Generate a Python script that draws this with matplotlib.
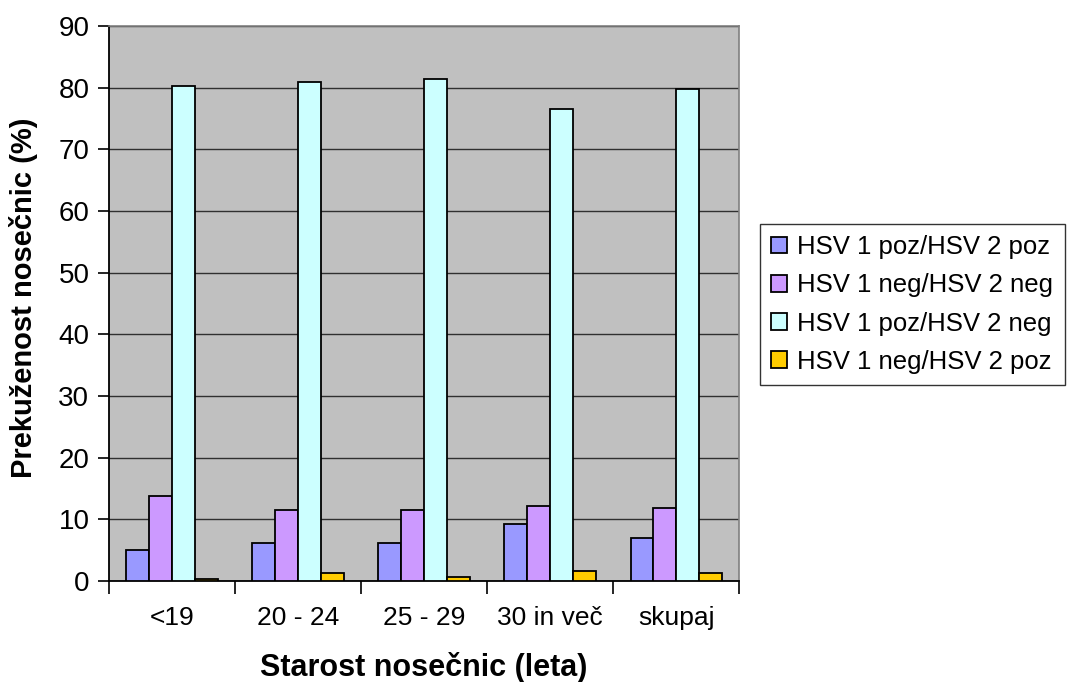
import matplotlib
matplotlib.use("Agg")
import matplotlib.pyplot as plt
import numpy as np

categories = ["<19", "20 - 24", "25 - 29", "30 in več", "skupaj"]
series_names = ["HSV 1 poz/HSV 2 poz", "HSV 1 neg/HSV 2 neg",
                "HSV 1 poz/HSV 2 neg", "HSV 1 neg/HSV 2 poz"]
poz_poz = [5.0, 6.2, 6.2, 9.2, 7.0]
neg_neg = [13.8, 11.5, 11.5, 12.1, 11.8]
poz_neg = [80.3, 80.9, 81.4, 76.6, 79.7]
neg_poz = [0.3, 1.3, 0.7, 1.7, 1.3]
yticks = [0, 10, 20, 30, 40, 50, 60, 70, 80, 90]

colors = ["#9999FF", "#CC99FF", "#CCFFFF", "#FFCC00"]
series = [poz_poz, neg_neg, poz_neg, neg_poz]

plt.rcParams['font.family'] = ['Liberation Sans', 'DejaVu Sans']

fig = plt.figure(figsize=(10.67, 6.82), dpi=100)
ax = fig.add_axes([0.102, 0.148, 0.591, 0.814])
ax.set_facecolor("#C0C0C0")

x = np.arange(len(categories))
w = 1 / 5.5
for i, (vals, c, name) in enumerate(zip(series, colors, series_names)):
    ax.bar(x + (i - 1.5) * w, vals, width=w, color=c, edgecolor="black",
           linewidth=1.3, label=name, zorder=3)

ax.set_xlim(-0.5, len(categories) - 0.5)
ax.set_ylim(0, 90)
ax.set_yticks(yticks)
ax.yaxis.grid(True, color="#303030", linewidth=1.0, zorder=1)
ax.set_axisbelow(True)

ax.set_xticks(x)
ax.set_xticklabels(categories, fontsize=19)
ax.tick_params(axis='x', length=0, pad=18)
ax.set_xticks(np.arange(-0.5, len(categories)), minor=True)
ax.tick_params(axis='x', which='minor', length=9, width=1.2, direction='out')
ax.tick_params(axis='y', labelsize=20, length=8, width=1.2, direction='out', pad=6)

for s in ["top", "right"]:
    ax.spines[s].set_color("#808080")
    ax.spines[s].set_linewidth(1.2)
for s in ["left", "bottom"]:
    ax.spines[s].set_color("black")
    ax.spines[s].set_linewidth(1.3)

ax.set_ylabel("Prekuženost nosečnic (%)", fontsize=21, fontweight="bold")
ax.yaxis.set_label_coords(-0.113, 0.51)
ax.set_xlabel("Starost nosečnic (leta)", fontsize=22, fontweight="bold", labelpad=16)

leg = fig.legend(loc="center left", bbox_to_anchor=(0.712, 0.5535), fontsize=18.5,
                 frameon=True, fancybox=False, edgecolor="black",
                 handlelength=0.6, handleheight=0.6, handletextpad=0.4,
                 borderpad=0.45, labelspacing=0.55, borderaxespad=0)
leg.get_frame().set_linewidth(1.0)

fig.savefig("out.png", dpi=100)
